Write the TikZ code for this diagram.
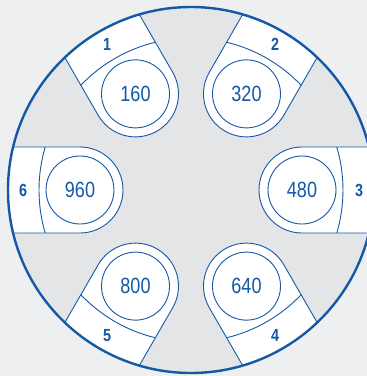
\documentclass[tikz,border=0pt]{standalone}
\usepackage{fontspec}
\setmainfont[FakeStretch=0.82]{Liberation Sans}
\definecolor{rimblue}{HTML}{1459A6}
\definecolor{plategray}{HTML}{E4E5E7}
\definecolor{backgray}{HTML}{EEEFF1}
\tikzset{
  slotline/.style={draw=rimblue, line width=0.9pt},
  slotvalue/.style={text=rimblue, font=\fontsize{22}{22}\selectfont},
  slotnum/.style={text=rimblue, font=\bfseries\fontsize{17.5}{17.5}\selectfont},
}
\begin{document}
\begin{tikzpicture}[x=1pt,y=1pt]
  \useasboundingbox (-191,-186) rectangle (176,190);
  \clip (-191,-186) rectangle (176,190);
  \fill[backgray] (-191,-186) rectangle (176,190);
  \fill[plategray] (0,0) circle (183);

  % the six slots
  \foreach \a/\n/\v in {120/1/160, 60/2/320, 0/3/480, -60/4/640, -120/5/800, 180/6/960} {
    \begin{scope}[rotate=\a]
      \fill[white] (177.9,43) -- (111,43) arc (90:270:43) -- (177.9,-43) arc (-13.59:13.59:183) -- cycle;
      \draw[slotline] (177.9,43) -- (111,43) arc (90:270:43) -- (177.9,-43);
      \draw[slotline] (-16.43:152) arc (-16.43:16.43:152);
      \draw[slotline] (111,0) circle (34);
    \end{scope}
    \node[slotvalue] (v\n) at (\a:111) {\v};
    \node[slotnum] (n\n) at (\a:168) {\n};
  }

  \draw[rimblue, line width=2.4pt] (0,0) circle (183);
\end{tikzpicture}
\end{document}
